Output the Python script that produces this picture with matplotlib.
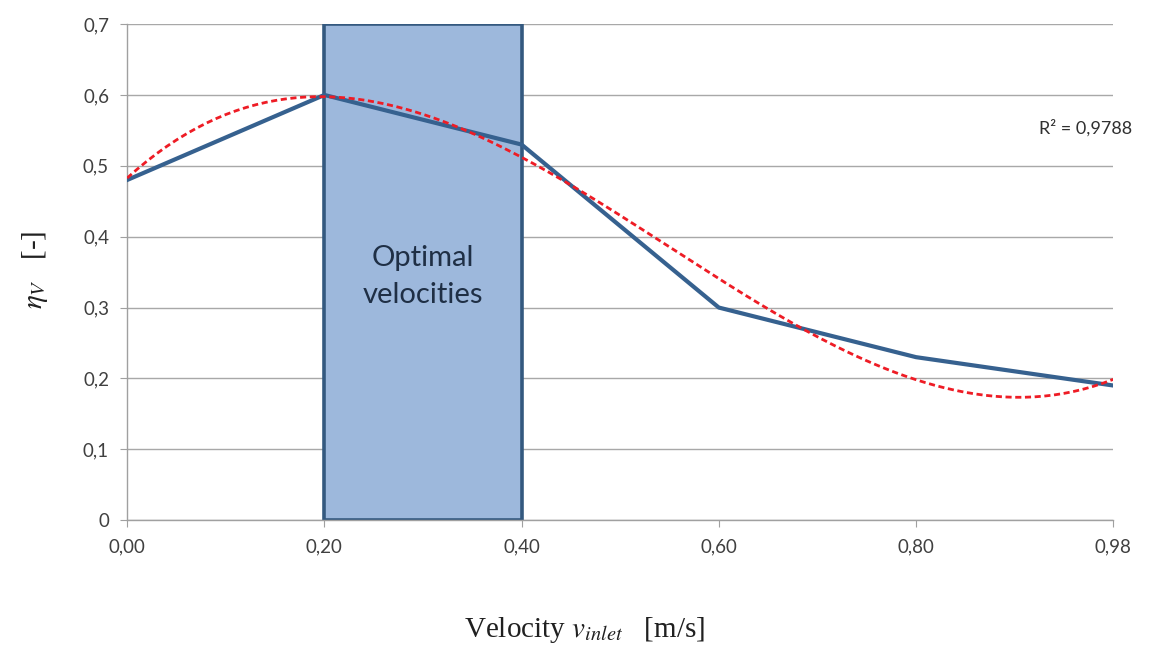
import numpy as np
import matplotlib
matplotlib.use("Agg")
import matplotlib.pyplot as plt
from matplotlib.patches import Rectangle

# data
velocity_labels = ["0,00", "0,20", "0,40", "0,60", "0,80", "0,98"]
efficiency = [0.48, 0.60, 0.53, 0.30, 0.23, 0.19]
y_ticks = [0, 0.1, 0.2, 0.3, 0.4, 0.5, 0.6, 0.7]
y_tick_labels = ["0", "0,1", "0,2", "0,3", "0,4", "0,5", "0,6", "0,7"]
optimal_range = (1, 2)  # category indices for 0,20 .. 0,40
r2_text = "R² = 0,9788"

plt.rcParams["mathtext.fontset"] = "stix"

fig = plt.figure(figsize=(11.56, 6.51), dpi=100)
ax = fig.add_axes([0.110, 0.201, 0.853, 0.762])

x = np.arange(len(velocity_labels))

# optimal velocities box
rect = Rectangle((optimal_range[0], 0), optimal_range[1] - optimal_range[0], 0.7,
                 facecolor="#9db8dc", edgecolor="#34597f", linewidth=2.6, zorder=2)
ax.add_patch(rect)
ax.text(sum(optimal_range) / 2, 0.344, "Optimal\nvelocities", ha="center", va="center",
        fontsize=21, family="Lato", color="#1f2f45", linespacing=1.55, zorder=3)

# measured series
ax.plot(x, efficiency, color="#36618f", linewidth=3.0, zorder=4, solid_joinstyle="round")

# cubic trendline (as Excel)
coef = np.polyfit(x, efficiency, 3)
xs = np.linspace(x[0], x[-1], 200)
ax.plot(xs, np.polyval(coef, xs), color="#ee1c25", linestyle=(0, (2.2, 1.3)),
        linewidth=2.0, zorder=5)

ax.set_xlim(x[0], x[-1])
ax.set_ylim(0, 0.7)
ax.set_xticks(x)
ax.set_xticklabels(velocity_labels, family="Lato", fontsize=13.5, color="#404040")
ax.set_yticks(y_ticks)
ax.set_yticklabels(y_tick_labels, family="Lato", fontsize=13.5, color="#404040")
ax.tick_params(axis="both", direction="out", length=5, color="#a0a0a0", pad=8)

ax.yaxis.grid(True, color="#a8a8a8", linewidth=1.0, zorder=0)
ax.set_axisbelow(True)
for s in ["top", "right"]:
    ax.spines[s].set_visible(False)
for s in ["left", "bottom"]:
    ax.spines[s].set_color("#a0a0a0")
    ax.spines[s].set_linewidth(1.0)

fig.text(0.899, 0.804, r2_text, family="Lato", fontsize=13, color="#303030",
         ha="left", va="center")

fig.text(0.506, 0.033, r"Velocity $\it{v}_{\it{inlet}}$   [m/s]", ha="center", va="center",
         family="Liberation Serif", fontsize=21, color="#202020")
fig.text(0.030, 0.585, r"$\it{\eta}_{\it{V}}$   [-]", ha="center", va="center", rotation=90,
         family="Liberation Serif", fontsize=21, color="#202020")

fig.savefig("out.png", dpi=100)
